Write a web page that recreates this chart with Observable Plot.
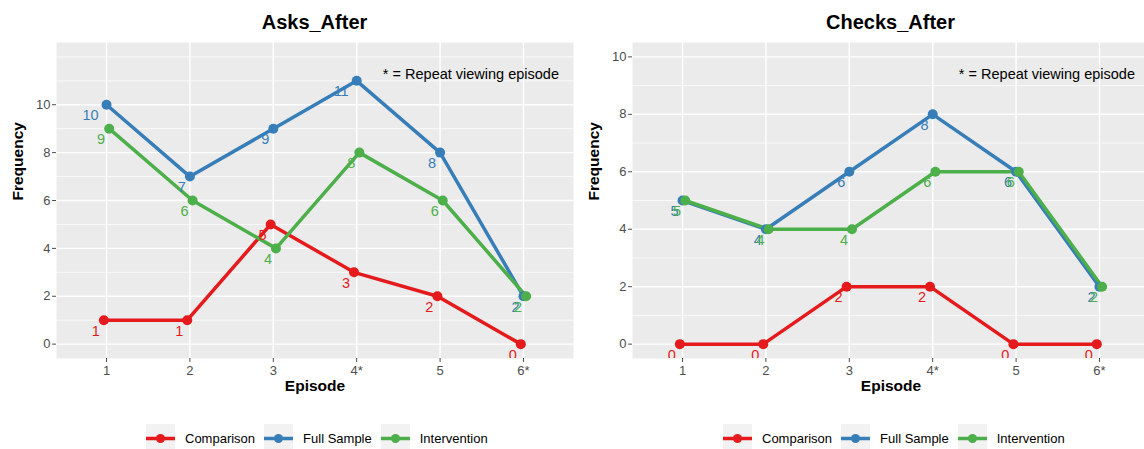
<!DOCTYPE html>
<html>
<head>
<meta charset="utf-8">
<script src="https://cdn.jsdelivr.net/npm/d3@7"></script>
<script src="https://cdn.jsdelivr.net/npm/@observablehq/plot@0.6"></script>
<style>
  html, body { margin: 0; padding: 0; background: white; }
  #wrap { position: relative; width: 1144px; height: 449px; overflow: hidden; font-family: "Liberation Sans", Arial, sans-serif; }
  .title { position: absolute; top: 9px; height: 26px; text-align: center; font-weight: bold; font-size: 20px; color: black; line-height: 26px; }
  .chart { position: absolute; top: 30px; }
  .legend { position: absolute; top: 424px; height: 29px; display: flex; align-items: center; font-size: 13px; color: black; }
  .legend .item { display: flex; align-items: center; margin-right: 9px; }
  .legend svg { display: block; margin-right: 10px; }
</style>
</head>
<body>
<div id="wrap"></div>
<script>
// ---- data ----
const episodes = ["1", "2", "3", "4*", "5", "6*"];
const groups = ["Comparison", "Full Sample", "Intervention"];
const groupColors = ["#E41A1C", "#377EB8", "#4DAF4A"];

const panelTitles = ["Asks_After", "Checks_After"];

const asksComparison   = [1, 1, 5, 3, 2, 0];
const asksFullSample   = [10, 7, 9, 11, 8, 2];
const asksIntervention = [9, 6, 4, 8, 6, 2];

const checksComparison   = [0, 0, 2, 2, 0, 0];
const checksFullSample   = [5, 4, 6, 8, 6, 2];
const checksIntervention = [5, 4, 4, 6, 6, 2];

const asksYTicks = [0, 2, 4, 6, 8, 10];
const checksYTicks = [0, 2, 4, 6, 8, 10];

const note = "* = Repeat viewing episode";
const xTitle = "Episode";
const yTitle = "Frequency";

// ---- build ----
const dodge = [-0.032, 0, 0.032];

function rows(seriesList) {
  return seriesList.flatMap((vals, gi) =>
    vals.map((v, i) => ({group: groups[gi], x: i + 1 + dodge[gi], value: v, label: String(v)}))
  );
}

function panel({data, yDomain, yTicks, yMinor, width, marginLeft}) {
  const xIdx = episodes.map((_, i) => i + 1);
  const labelOpts = (n) => ({
    x: "x", y: "value", text: "label", fill: "group",
    filter: d => d.label.length === n,
    textAnchor: "end", dx: -4 * n, dy: 11, fontSize: 14.5, clip: true
  });
  return Plot.plot({
    width, height: 370,
    marginTop: 12, marginBottom: 42, marginLeft, marginRight: 0,
    style: {fontFamily: "'Liberation Sans', Arial, sans-serif", color: "#4D4D4D", background: "transparent", overflow: "visible"},
    x: {type: "linear", domain: [0.4, 6.6], range: [marginLeft, marginLeft + 517]},
    y: {domain: yDomain},
    color: {domain: groups, range: groupColors},
    marks: [
      Plot.frame({fill: "#EBEBEB", stroke: null}),
      Plot.ruleY(yMinor, {stroke: "white", strokeWidth: 0.7}),
      Plot.ruleY(yTicks, {stroke: "white", strokeWidth: 1.4}),
      Plot.ruleX(xIdx, {stroke: "white", strokeWidth: 1.4, clip: true}),
      Plot.axisX({ticks: xIdx, tickFormat: i => episodes[i - 1], tickSize: 4, tickPadding: 3, fontSize: 13, label: null}),
      Plot.axisY({ticks: yTicks, tickSize: 4, tickPadding: 2, fontSize: 13, label: null}),
      Plot.line(data, {x: "x", y: "value", stroke: "group", z: "group", strokeWidth: 3.5}),
      Plot.dot(data, {x: "x", y: "value", fill: "group", r: 5}),
      Plot.text(data, labelOpts(1)),
      Plot.text(data, labelOpts(2)),
      Plot.text([note], {x: () => 5.37, frameAnchor: "top", lineAnchor: "middle", dy: 32, text: d => d, fill: "black", fontSize: 14.5}),
      Plot.text([xTitle], {x: () => 3.5, frameAnchor: "bottom", lineAnchor: "middle", dy: 28, text: d => d, fill: "black", fontSize: 15.5, fontWeight: "bold"}),
      Plot.text([yTitle], {frameAnchor: "left", dx: -38, rotate: -90, text: d => d, fill: "black", fontSize: 15.5, fontWeight: "bold"})
    ]
  });
}

function legend(left) {
  const div = document.createElement("div");
  div.className = "legend";
  div.style.left = left + "px";
  groups.forEach((g, i) => {
    const item = document.createElement("div");
    item.className = "item";
    item.innerHTML = `<svg width="29" height="29"><rect width="29" height="29" fill="#F2F2F2"/><line x1="0" x2="29" y1="14.5" y2="14.5" stroke="${groupColors[i]}" stroke-width="3.5"/><circle cx="14.5" cy="14.5" r="4.5" fill="${groupColors[i]}"/></svg><span>${g}</span>`;
    div.appendChild(item);
  });
  return div;
}

const wrap = document.getElementById("wrap");

const panels = [
  {left: 0, width: 573, marginLeft: 56, title: panelTitles[0],
   data: rows([asksComparison, asksFullSample, asksIntervention]),
   yDomain: [-0.6, 12.6], yTicks: asksYTicks, yMinor: [1, 3, 5, 7, 9, 11, 12], legendLeft: 146},
  {left: 578, width: 566, marginLeft: 54, title: panelTitles[1],
   data: rows([checksComparison, checksFullSample, checksIntervention]),
   yDomain: [-0.5, 10.5], yTicks: checksYTicks, yMinor: [1, 3, 5, 7, 9], legendLeft: 723}
];

panels.forEach(p => {
  const t = document.createElement("div");
  t.className = "title";
  t.style.left = (p.left + p.marginLeft) + "px";
  t.style.width = "517px";
  t.textContent = p.title;
  wrap.appendChild(t);

  const c = document.createElement("div");
  c.className = "chart";
  c.style.left = p.left + "px";
  c.appendChild(panel(p));
  wrap.appendChild(c);

  wrap.appendChild(legend(p.legendLeft));
});
</script>
</body>
</html>
